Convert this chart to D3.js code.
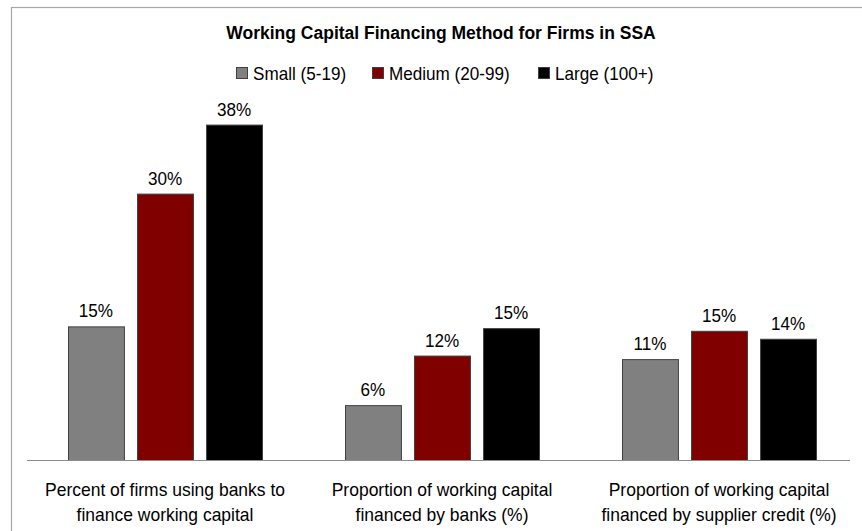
<!DOCTYPE html>
<html>
<head>
<meta charset="utf-8">
<script src="https://cdn.jsdelivr.net/npm/d3@7"></script>
<style>
  body { margin: 0; background: #fff; }
  svg { display: block; font-family: "Liberation Sans", Arial, sans-serif; }
</style>
</head>
<body>
<svg id="chart" width="862" height="531"></svg>
<script>
// categories and series
const categories = [
  ["Percent of firms using banks to", "finance working capital"],
  ["Proportion of working capital", "financed by banks (%)"],
  ["Proportion of working capital", "financed by supplier credit (%)"]
];
const seriesNames = ["Small (5-19)", "Medium (20-99)", "Large (100+)"];
const seriesColors = ["#808080", "#800000", "#000000"];
const small = [15.1, 6.2, 11.4];
const medium = [30.1, 11.8, 14.6];
const large = [37.9, 14.9, 13.7];
const labels = [
  ["15%", "30%", "38%"],
  ["6%", "12%", "15%"],
  ["11%", "15%", "14%"]
];

const svg = d3.select("#chart");
const narrow = 0.92; // the source font is a bit condensed
const groupW = 194;

// outer frame (runs off the right and bottom edge)
svg.append("rect")
  .attr("x", 11.5).attr("y", 7.5)
  .attr("width", 900).attr("height", 600)
  .attr("fill", "none").attr("stroke", "#a6a6a6").attr("stroke-width", 1.2);

svg.append("text")
  .attr("x", 441).attr("y", 38.5)
  .attr("text-anchor", "middle")
  .attr("font-size", 17.5).attr("font-weight", "bold")
  .text("Working Capital Financing Method for Firms in SSA");

// legend
const legendX = [236, 372, 538];
const legend = svg.append("g").selectAll("g")
  .data(seriesNames).enter().append("g")
  .attr("transform", (d, i) => `translate(${legendX[i]},67)`);
legend.append("rect")
  .attr("x", 0.5).attr("y", 0.5).attr("width", 11).attr("height", 11)
  .attr("fill", (d, i) => seriesColors[i])
  .attr("stroke", "#404040");
legend.append("text")
  .attr("transform", `translate(17,13) scale(${narrow},1)`)
  .attr("font-size", 18.6)
  .text(d => d);

const x0 = d3.scaleBand().domain(d3.range(categories.length)).range([26.5, 857.5]);
const x1 = d3.scaleBand().domain(d3.range(3)).range([0, groupW]).paddingInner(0.19);
const y = d3.scaleLinear().domain([0, 40]).range([460, 106]);

const rows = categories.map((c, i) => [small[i], medium[i], large[i]]);

const groups = svg.append("g").selectAll("g")
  .data(rows).enter().append("g")
  .attr("transform", (d, i) => `translate(${x0(i) + (x0.bandwidth() - groupW) / 2},0)`);

groups.selectAll("rect")
  .data(d => d).enter().append("rect")
  .attr("x", (d, j) => x1(j) + 0.5)
  .attr("y", d => y(d) + 0.5)
  .attr("width", x1.bandwidth())
  .attr("height", d => y(0) - y(d))
  .attr("fill", (d, j) => seriesColors[j])
  .attr("stroke", "#404040")
  .attr("stroke-width", 1);

groups.selectAll("text")
  .data((d, i) => d.map((v, j) => ({ v: v, t: labels[i][j], j: j }))).enter().append("text")
  .attr("transform", d => `translate(${x1(d.j) + x1.bandwidth() / 2},${y(d.v) - 9}) scale(${narrow},1)`)
  .attr("text-anchor", "middle")
  .attr("font-size", 18.6)
  .text(d => d.t);

// baseline axis
svg.append("line")
  .attr("x1", 27).attr("x2", 850)
  .attr("y1", 460.5).attr("y2", 460.5)
  .attr("stroke", "#8c8c8c").attr("stroke-width", 1.2);

// category labels
svg.append("g").selectAll("text")
  .data(categories.flatMap((c, i) => c.map((line, k) => ({ line: line, i: i, k: k }))))
  .enter().append("text")
  .attr("transform", d => `translate(${x0(d.i) + x0.bandwidth() / 2},${496 + d.k * 25}) scale(0.94,1)`)
  .attr("text-anchor", "middle")
  .attr("font-size", 18.6)
  .text(d => d.line);
</script>
</body>
</html>
